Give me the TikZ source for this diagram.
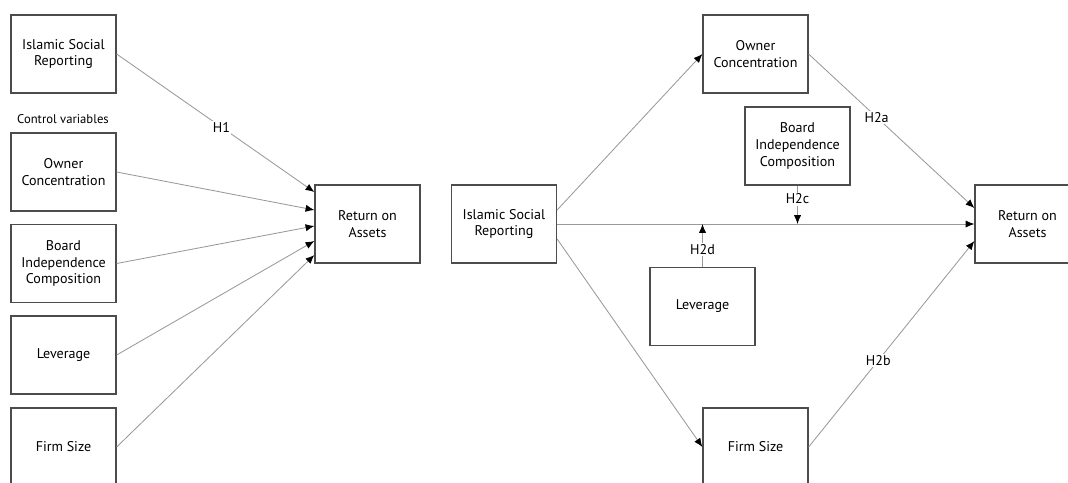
\documentclass[tikz,border=0pt]{standalone}
\usepackage{fontspec}
\setmainfont{PT Sans}
\usetikzlibrary{calc,arrows.meta}
\tikzstyle{box}=[rectangle, minimum width=26.25mm, minimum height=19.5mm, inner sep=0pt, draw=black!70, line width=0.9pt, align=center, anchor=center]
\tikzstyle{annot}=[align=center, fill=white, inner sep=1pt]
\tikzstyle{link}=[draw=black!40, line width=0.6pt, -{Latex[length=2.2mm,width=1.8mm,color=black]}]

\begin{document}
\begin{tikzpicture}[x=0.25mm, y=-0.25mm]
	\useasboundingbox (0,0) rectangle (1068,482);

	% first model
	\node[box](isr1) at (63.5,54){Islamic Social\\Reporting};
	\node[annot] (ctrl) at (63,119){\small Control variables};
	\node[box](owner1) at (63.5,172){Owner\\Concentration};
	\node[box](board1) at (63.5,263.5){Board\\Independence\\Composition};
	\node[box](lev1) at (63.5,355){Leverage};
	\node[box](firm1) at (63.5,447){Firm Size};
	\node[box](roa1) at (367.5,224){Return on\\Assets};

	\draw[link] (isr1.east) -- node[annot, pos=0.53]{H1} ($(roa1.west)+(0,-32)$);
	\draw[link] (owner1.east) -- ($(roa1.west)+(0,-14)$);
	\draw[link] (board1.east) -- ($(roa1.west)+(0,2)$);
	\draw[link] (lev1.east) -- ($(roa1.west)+(0,17)$);
	\draw[link] (firm1.east) -- ($(roa1.west)+(0,31)$);

	% second model
	\node[box](isr2) at (504,224){Islamic Social\\Reporting};
	\node[box](owner2) at (755.5,54){Owner\\Concentration};
	\node[box](board2) at (797.5,146){Board\\Independence\\Composition};
	\node[box](lev2) at (702.5,306.5){Leverage};
	\node[box](firm2) at (755.5,447){Firm Size};
	\node[box](roa2) at (1027.5,224){Return on\\Assets};

	\coordinate (modc) at (board2.south |- isr2.east);
	\coordinate (modd) at (lev2.north |- isr2.east);

	\draw[link] ($(isr2.east)+(0,-14)$) -- (owner2.west);
	\draw[link] (isr2.east) -- (roa2.west);
	\draw[link] ($(isr2.east)+(0,15)$) -- (firm2.west);
	\draw[link] (owner2.east) -- node[annot, pos=0.41]{H2a} ($(roa2.west)+(0,-16)$);
	\draw[link] (firm2.east) -- node[annot, pos=0.42]{H2b} ($(roa2.west)+(0,17)$);
	\draw[link] (board2.south) -- node[annot, pos=0.35]{H2c} (modc);
	\draw[link] (lev2.north) -- node[annot, pos=0.4]{H2d} (modd);

\end{tikzpicture}
\end{document}
